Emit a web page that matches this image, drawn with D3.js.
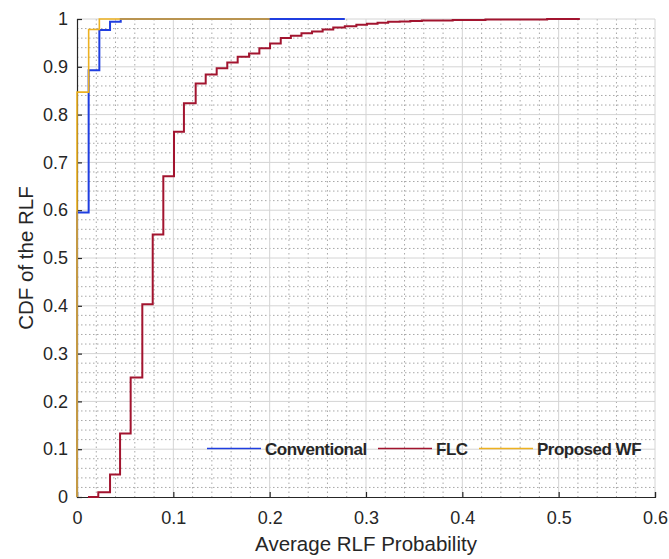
<!DOCTYPE html>
<html>
<head>
<meta charset="utf-8">
<script src="https://cdn.jsdelivr.net/npm/d3@7"></script>
<style>
  body { margin: 0; background: #fff; }
  text { font-family: "Liberation Sans", Arial, sans-serif; fill: #262626; }
</style>
</head>
<body>
<div id="plot"></div>
<script>
// Data (x = average RLF probability, y = CDF)
const convRLF = [0, 0, 0.0121, 0.0232, 0.0343, 0.0454, 0.278];
const convCDF = [0, 0.595, 0.893, 0.977, 0.994, 1.0, 1.0];

const flcRLF = [0.0114, 0.0221, 0.0343, 0.0447, 0.0557, 0.0678, 0.0786, 0.0896, 0.1007, 0.111,
  0.1232, 0.1336, 0.145, 0.156, 0.1668, 0.1786, 0.1893, 0.2004, 0.2115, 0.222,
  0.233, 0.244, 0.255, 0.266, 0.278, 0.290, 0.301, 0.312, 0.323, 0.335,
  0.346, 0.358, 0.390, 0.424, 0.488, 0.522];
const flcCDF = [0, 0.010, 0.047, 0.133, 0.250, 0.403, 0.549, 0.671, 0.764, 0.824,
  0.865, 0.884, 0.897, 0.909, 0.921, 0.928, 0.939, 0.949, 0.960, 0.965,
  0.970, 0.974, 0.978, 0.982, 0.985, 0.988, 0.990, 0.992, 0.994, 0.995,
  0.996, 0.997, 0.998, 0.999, 1.0, 1.0];

const wfRLF = [0, 0, 0.0121, 0.0232, 0.2];
const wfCDF = [0, 0.847, 0.978, 1.0, 1.0];

const seriesNames = ["Conventional", "FLC", "Proposed WF"];
const xTicks = [0, 0.1, 0.2, 0.3, 0.4, 0.5, 0.6];
const yTicks = [0, 0.1, 0.2, 0.3, 0.4, 0.5, 0.6, 0.7, 0.8, 0.9, 1];

// Dimensions and margins
const w = 669;
const h = 559;
const margin = { top: 19, right: 14, bottom: 62, left: 77 };
const innerWidth = w - margin.left - margin.right;
const innerHeight = h - margin.top - margin.bottom;

const svg = d3.select("div#plot")
  .append("svg")
  .attr("width", w)
  .attr("height", h);

svg.append("rect").attr("width", w).attr("height", h).attr("fill", "#fff");

const g = svg.append("g")
  .attr("transform", `translate(${margin.left}, ${margin.top})`);

// Scales
const xScale = d3.scaleLinear().domain([0, 0.6]).range([0, innerWidth]);
const yScale = d3.scaleLinear().domain([0, 1]).range([innerHeight, 0]);

// Minor grid (dotted, every 0.02)
const xMinor = d3.range(1, 30).map(i => i * 0.02).filter((v, i) => (i + 1) % 5 !== 0);
const yMinor = d3.range(1, 50).map(i => i * 0.02).filter((v, i) => (i + 1) % 5 !== 0);

g.append("g").selectAll("line")
  .data(xMinor)
  .enter().append("line")
  .attr("x1", d => xScale(d)).attr("x2", d => xScale(d))
  .attr("y1", 0).attr("y2", innerHeight)
  .attr("stroke", "#a8a8a8").attr("stroke-width", 1)
  .attr("stroke-dasharray", "1.5,3");

g.append("g").selectAll("line")
  .data(yMinor)
  .enter().append("line")
  .attr("x1", 0).attr("x2", innerWidth)
  .attr("y1", d => yScale(d)).attr("y2", d => yScale(d))
  .attr("stroke", "#a8a8a8").attr("stroke-width", 1)
  .attr("stroke-dasharray", "1.5,2.5");

// Major grid
g.append("g").selectAll("line")
  .data(xTicks.slice(1))
  .enter().append("line")
  .attr("x1", d => xScale(d)).attr("x2", d => xScale(d))
  .attr("y1", 0).attr("y2", innerHeight)
  .attr("stroke", "#d4d4d4").attr("stroke-width", 1);

g.append("g").selectAll("line")
  .data(yTicks.slice(1))
  .enter().append("line")
  .attr("x1", 0).attr("x2", innerWidth)
  .attr("y1", d => yScale(d)).attr("y2", d => yScale(d))
  .attr("stroke", "#d4d4d4").attr("stroke-width", 1);

// Axes
const xAxis = g.append("g")
  .attr("transform", `translate(0, ${innerHeight})`)
  .call(d3.axisBottom(xScale).tickValues(xTicks).tickFormat(d => d === 0 ? "0" : d3.format(".1f")(d)).tickSize(-5).tickPadding(14));
const yAxis = g.append("g")
  .call(d3.axisLeft(yScale).tickValues(yTicks).tickFormat(d => (d === 0 || d === 1) ? d3.format("d")(d) : d3.format(".1f")(d)).tickSize(-5).tickPadding(9));

[xAxis, yAxis].forEach(ax => {
  ax.select(".domain").attr("stroke", "#262626").attr("stroke-width", 1.2);
  ax.selectAll(".tick line").attr("stroke", "#262626").attr("stroke-width", 1.2);
  ax.selectAll(".tick text")
    .attr("font-family", "Liberation Sans, Arial, sans-serif")
    .attr("font-size", 18)
    .attr("fill", "#262626");
});

// Axis labels
svg.append("text")
  .attr("x", margin.left + innerWidth / 2)
  .attr("y", 551)
  .attr("text-anchor", "middle")
  .attr("font-size", 20.5)
  .text("Average RLF Probability");

svg.append("text")
  .attr("transform", `translate(33, ${margin.top + innerHeight / 2}) rotate(-90)`)
  .attr("text-anchor", "middle")
  .attr("font-size", 20.5)
  .text("CDF of the RLF");

// Lines
const colors = ["#1f3ee0", "#a2142f", "#edb120"];
const widths = [2, 2, 1.6];
const series = [
  d3.zip(convRLF, convCDF),
  d3.zip(flcRLF, flcCDF),
  d3.zip(wfRLF, wfCDF)
];

const line = d3.line()
  .x(d => xScale(d[0]))
  .y(d => yScale(d[1]))
  .curve(d3.curveStepAfter);

series.forEach((s, i) => {
  g.append("path")
    .datum(s)
    .attr("fill", "none")
    .attr("stroke", colors[i])
    .attr("stroke-width", widths[i])
    .attr("d", line);
});

// Legend
const legendY = 448.5;
const legendItems = [
  { x1: 207, x2: 261, tx: 265 },
  { x1: 378, x2: 432, tx: 436 },
  { x1: 479, x2: 533, tx: 537 }
];

legendItems.forEach((it, i) => {
  svg.append("line")
    .attr("x1", it.x1).attr("x2", it.x2)
    .attr("y1", legendY).attr("y2", legendY)
    .attr("stroke", colors[i]).attr("stroke-width", 1.5);
  svg.append("text")
    .attr("x", it.tx)
    .attr("y", legendY + 6)
    .attr("font-size", 17)
    .attr("font-weight", "bold")
    .attr("letter-spacing", "-0.5px")
    .attr("fill", "#000")
    .text(seriesNames[i]);
});
</script>
</body>
</html>
